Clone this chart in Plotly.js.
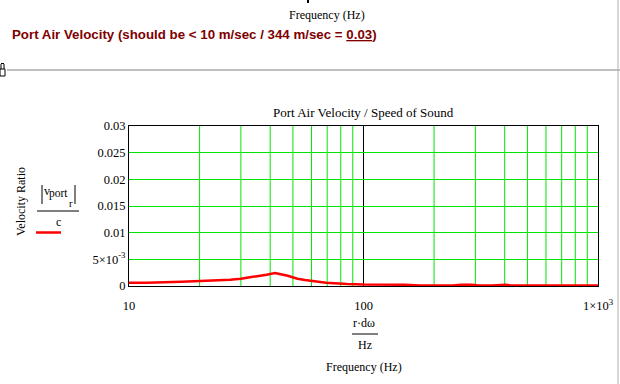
<!DOCTYPE html>
<html>
<head>
<meta charset="utf-8">
<script src="https://cdn.plot.ly/plotly-3.0.1.min.js"></script>
<style>
html,body{margin:0;padding:0;background:#fff;}
#chart{width:620px;height:384px;}
</style>
</head>
<body>
<div id="chart"></div>
<script>
// ---- data ----
var freqHz = [10, 11.9, 16.8, 22.6, 27.0, 30.0, 32.8, 36.2, 38.6, 42.0, 45.2, 47.5, 49.8, 52.3, 56.3, 62.1, 69.2, 85.1, 100, 150, 175, 240, 260, 290, 310, 350, 380, 405, 425, 1000];
var velocityRatio = [0.00062, 0.00062, 0.00081, 0.00099, 0.00118, 0.00137, 0.00163, 0.00182, 0.00212, 0.00244, 0.00219, 0.00193, 0.00163, 0.00137, 0.00113, 0.00088, 0.00062, 0.00038, 0.00028, 0.00025, 0.0001, 0.0001, 0.00025, 0.00025, 0.0001, 0.0001, 0.00025, 0.00025, 0.0001, 0.0001];
var xMinorGrid = [20, 30, 40, 50, 60, 70, 80, 90, 200, 300, 400, 500, 600, 700, 800, 900];
var xTickVals = [10, 100, 1000];
var xTickText = ["10", "100", "1\u00d710<sup>3</sup>"];
var yTickVals = [0, 0.005, 0.01, 0.015, 0.02, 0.025, 0.03];
var yTickText = ["0", "5\u00d710<sup>-3</sup>", "0.01", "0.015", "0.02", "0.025", "0.03"];

// ---- layout helpers (pixel -> paper) ----
var L = 129, R = 598, T = 126, B = 286;
function px(x){ return (x - L) / (R - L); }
function py(y){ return (B - y) / (B - T); }
var serif = "Liberation Serif, Times New Roman, serif";
var GREEN = '#00e600';

function ann(x, y, text, opts){
  var a = {xref:'paper', yref:'paper', x:px(x), y:py(y), text:text, showarrow:false,
           xanchor:'center', yanchor:'middle', font:{family:serif, size:12, color:'#000'}};
  for (var k in (opts||{})) a[k] = opts[k];
  return a;
}
function hline(x0, x1, y, color, w){
  return {type:'line', xref:'paper', yref:'paper', x0:px(x0), x1:px(x1), y0:py(y), y1:py(y), line:{color:color, width:w}};
}
function vline(x, y0, y1, color, w){
  return {type:'line', xref:'paper', yref:'paper', x0:px(x), x1:px(x), y0:py(y0), y1:py(y1), line:{color:color, width:w}};
}

var trace = {
  x: freqHz, y: velocityRatio, type:'scatter', mode:'lines',
  line:{color:'#ff0000', width:2.5}, hoverinfo:'skip'
};

var shapes = [];
xMinorGrid.forEach(function(v){
  shapes.push({type:'line', xref:'x', yref:'paper', x0:v, x1:v, y0:0, y1:1, line:{color:GREEN, width:1}, layer:'between'});
});
shapes.push({type:'line', xref:'x', yref:'paper', x0:100, x1:100, y0:0, y1:1, line:{color:'#000', width:1}, layer:'between'});
shapes = shapes.concat([
  hline(7, 620, 70, '#808080', 1),
  vline(618, 0, 384, '#b0b0b0', 1),
  {type:'rect', xref:'paper', yref:'paper', x0:px(307), x1:px(309), y0:py(0), y1:py(3), fillcolor:'#000', line:{width:0}},
  // lock icon
  {type:'rect', xref:'paper', yref:'paper', x0:px(0), x1:px(5), y0:py(69), y1:py(76), fillcolor:'#fff', line:{color:'#000', width:1}},
  vline(1, 64, 69, '#000', 1), vline(4, 64, 69, '#000', 1), hline(1, 4, 63.5, '#000', 1),
  // legend fraction
  vline(42, 185, 204, '#000', 1), vline(75, 185, 204, '#000', 1),
  hline(37, 79, 211, '#000', 1),
  hline(36, 61, 232.5, '#ff0000', 2.5),
  // x-axis fraction bar
  hline(352, 378, 334, '#000', 1)
]);

var layout = {
  width:620, height:384,
  margin:{l:L, r:620-R, t:T, b:384-B, pad:0},
  paper_bgcolor:'#fff', plot_bgcolor:'#fff',
  showlegend:false,
  xaxis:{
    type:'log', range:[1, 3], tickmode:'array', tickvals:xTickVals, ticktext:xTickText,
    showgrid:false,
    showline:true, mirror:true, linecolor:'#000', linewidth:1,
    ticks:'', zeroline:false, ticklabelstandoff:8,
    tickfont:{family:serif, size:12.5, color:'#000'}
  },
  yaxis:{
    range:[0, 0.03], tickmode:'array', tickvals:yTickVals, ticktext:yTickText,
    showgrid:true, gridcolor:GREEN, gridwidth:1,
    showline:true, mirror:true, linecolor:'#000', linewidth:1,
    ticks:'', zeroline:false, ticklabelstandoff:0,
    tickfont:{family:serif, size:12.5, color:'#000'}
  },
  shapes: shapes,
  annotations:[
    ann(327, 15, 'Frequency (Hz)'),
    ann(10, 34, 'Port Air Velocity (should be &lt; 10 m/sec / 344 m/sec = <span style="text-decoration:underline">0.03</span>)',
        {xanchor:'left', font:{family:'Liberation Sans Narrow, Arial Narrow, Liberation Sans, Arial, sans-serif', size:13.3, color:'#800000', weight:'bold'}}),
    ann(363, 112, 'Port Air Velocity / Speed of Sound', {font:{family:serif, size:13, color:'#000'}}),
    ann(21, 202, 'Velocity Ratio', {textangle:-90}),
    ann(47, 191, 'v'),
    ann(58, 193, 'port', {font:{family:serif, size:11.5, color:'#000'}}),
    ann(71, 203, 'r', {font:{family:serif, size:10.5, color:'#000'}}),
    ann(58, 222, 'c'),
    ann(364, 323, 'r\u00b7d\u03c9'),
    ann(365, 345, 'Hz'),
    ann(364, 367, 'Frequency (Hz)')
  ]
};

Plotly.newPlot('chart', [trace], layout, {staticPlot:true, displayModeBar:false});
</script>
</body>
</html>
